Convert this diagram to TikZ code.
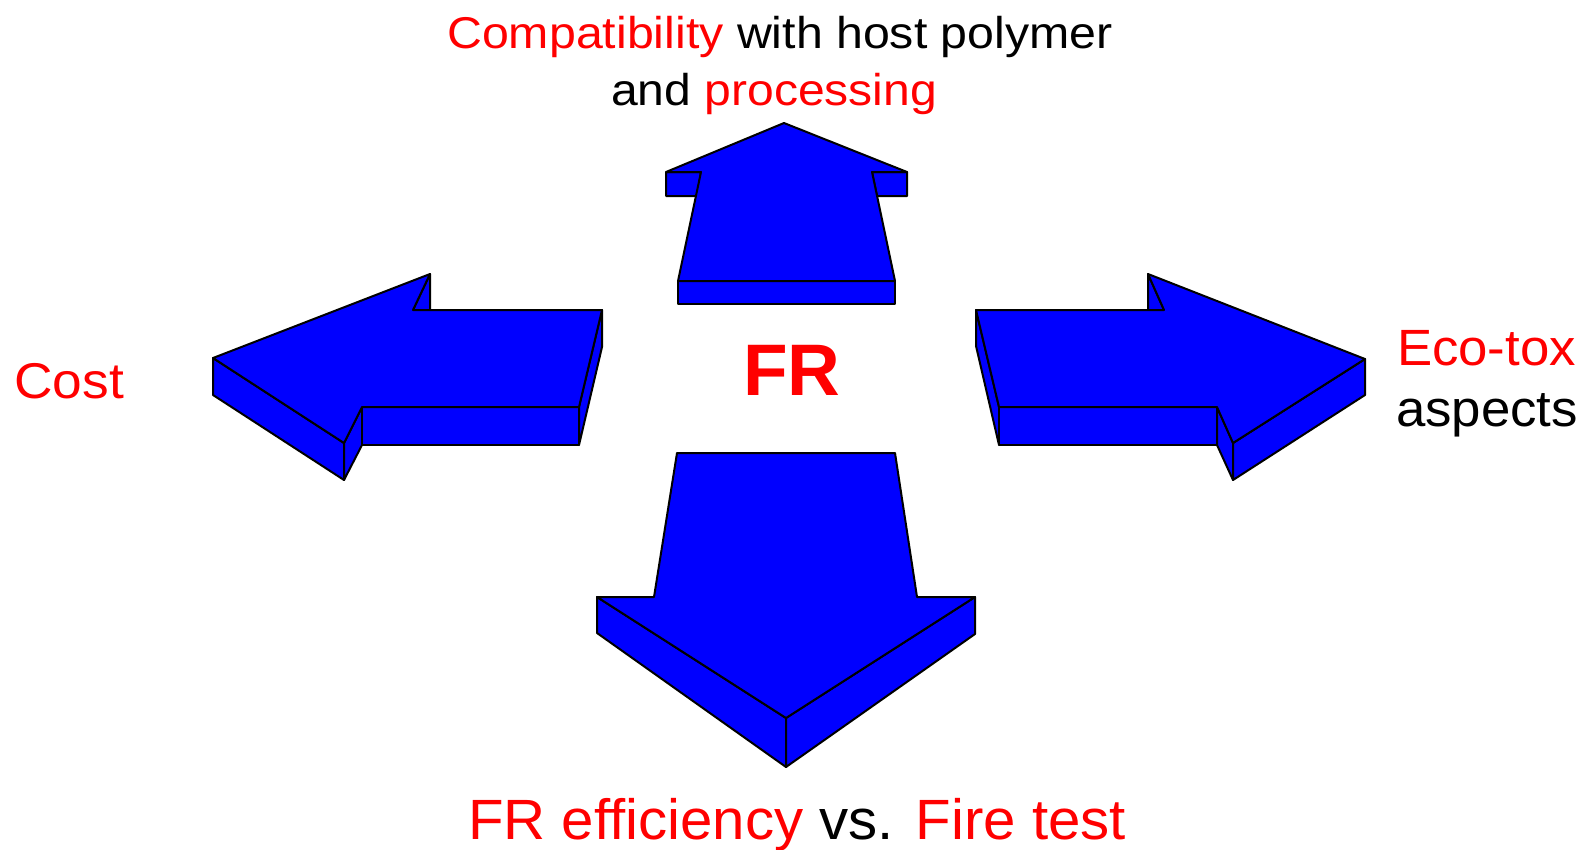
\documentclass[tikz,border=0pt]{standalone}
\usepackage{fontspec}
\usepackage{graphicx}
\setmainfont{Liberation Sans}
\definecolor{arrowblue}{RGB}{0,0,255}
\definecolor{txtred}{RGB}{255,0,0}
\newcommand{\hs}[2]{\scalebox{#1}[1]{#2}}
\begin{document}
\begin{tikzpicture}[x=1pt,y=-1pt,
  face/.style={fill=arrowblue,draw=black,line width=2pt,line join=round},
  lbl/.style={inner sep=0pt,outer sep=0pt}]
\useasboundingbox (0,0) rectangle (1586,849);
% up arrow
\draw[face] (666,172) -- (701,172) -- (697,196) -- (666,196) -- cycle;
\draw[face] (872,172) -- (907,172) -- (907,196) -- (877,196) -- cycle;
\draw[face] (678,281) -- (895,281) -- (895,304) -- (678,304) -- cycle;
\draw[face] (784,123) -- (907,172) -- (872,172) -- (895,281) -- (678,281) -- (701,172) -- (666,172) -- cycle;
% left arrow
\draw[face] (430,274) -- (413,310) -- (413,346) -- (430,310) -- cycle;
\draw[face] (213,358) -- (344,443) -- (344,480) -- (213,395) -- cycle;
\draw[face] (344,443) -- (362,407) -- (362,445) -- (344,480) -- cycle;
\draw[face] (362,407) -- (579,407) -- (579,445) -- (362,445) -- cycle;
\draw[face] (579,407) -- (602,310) -- (602,347) -- (579,445) -- cycle;
\draw[face] (213,358) -- (430,274) -- (413,310) -- (602,310) -- (579,407) -- (362,407) -- (344,443) -- cycle;
% right arrow
\draw[face] (1148,274) -- (1164,310) -- (1164,346) -- (1148,310) -- cycle;
\draw[face] (976,310) -- (999,407) -- (999,445) -- (976,346) -- cycle;
\draw[face] (999,407) -- (1217,407) -- (1217,445) -- (999,445) -- cycle;
\draw[face] (1217,407) -- (1233,443) -- (1233,480) -- (1217,445) -- cycle;
\draw[face] (1233,443) -- (1365,359) -- (1365,395) -- (1233,480) -- cycle;
\draw[face] (976,310) -- (1164,310) -- (1148,274) -- (1365,359) -- (1233,443) -- (1217,407) -- (999,407) -- cycle;
% down arrow
\draw[face] (597,597) -- (786,718) -- (786,767) -- (597,633) -- cycle;
\draw[face] (786,718) -- (975,597) -- (975,634) -- (786,767) -- cycle;
\draw[face] (677,453) -- (895,453) -- (917,597) -- (975,597) -- (786,718) -- (597,597) -- (654,597) -- cycle;
% texts
\node[lbl,anchor=base] (top1) at (780,48.5) {\fontsize{44.5}{50}\selectfont\hs{1.085}{\textcolor{txtred}{Compatibility} with host polymer}};
\node[lbl,anchor=base] (top2) at (774,105) {\fontsize{44.5}{50}\selectfont\hs{1.08}{and \textcolor{txtred}{processing}}};
\node[lbl,anchor=base west] (cost) at (14.5,398.5) {\fontsize{50.3}{56}\selectfont\hs{1.06}{\textcolor{txtred}{Cost}}};
\node[lbl,anchor=base west] (eco1) at (1397,365) {\fontsize{51}{56}\selectfont\hs{1.035}{\textcolor{txtred}{Eco-tox}}};
\node[lbl,anchor=base west] (eco2) at (1396,426) {\fontsize{51}{56}\selectfont\hs{1.035}{aspects}};
\node[lbl,anchor=base] (fr) at (792,395) {\fontsize{73}{80}\selectfont\bfseries\textcolor{txtred}{FR}};
\node[lbl,anchor=base] (bot) at (797,839) {\fontsize{56.8}{62}\selectfont\hs{1.025}{\textcolor{txtred}{FR efficiency} vs. \textcolor{txtred}{Fire test}}};
\end{tikzpicture}
\end{document}
